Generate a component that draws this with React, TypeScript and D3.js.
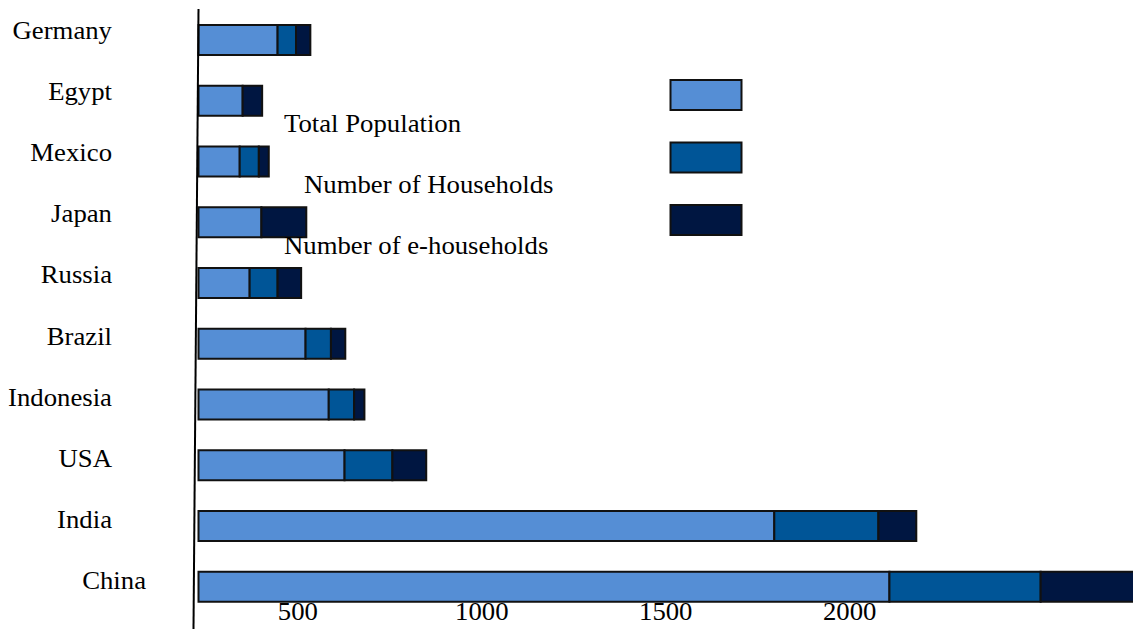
import React from "react";
import * as d3 from "d3";

const countries = ["Germany", "Egypt", "Mexico", "Japan", "Russia", "Brazil", "Indonesia", "USA", "India", "China"];
const totalPopulation = [215, 120, 112, 171, 139, 291, 354, 397, 1565, 1878];
const households = [50, 0, 52, 0, 76, 69, 69, 130, 283, 411];
const eHouseholds = [39, 53, 27, 122, 64, 39, 28, 92, 103, 260];
const seriesNames = ["Total Population", "Number of Households", "Number of e-households"];
const seriesColors = ["#558ED5", "#005597", "#001641"];
const tickValues = [500, 1000, 1500, 2000];
const axisStart = 230;

const W = 1133;
const H = 629;
const FONT = '"Liberation Serif", "Times New Roman", "DejaVu Serif", serif';
const FS = 25;
const SX = 1.07;

function T({ x, y, anchor, children }: { x: number; y: number; anchor?: string; children: any }) {
  return (
    <text
      transform={`translate(${x},${y}) scale(${SX},1)`}
      textAnchor={anchor || "start"}
      style={{ fontFamily: FONT, fontSize: FS }}
      fill="#000"
    >
      {children}
    </text>
  );
}

export default function App() {
  const x = d3.scaleLinear().domain([axisStart, 2770]).range([198.5, 1133]);
  const step = 60.75;
  const bh = 30;
  const p = 1 - bh / step;
  const r0 = 25 - (step - bh) / 2;
  const y = d3
    .scaleBand<string>()
    .domain(countries)
    .range([r0, r0 + step * countries.length])
    .paddingInner(p)
    .paddingOuter(p / 2);

  const rows = countries.map((c, i) => ({
    country: c,
    s0: totalPopulation[i],
    s1: households[i],
    s2: eHouseholds[i],
  }));
  const keys = ["s0", "s1", "s2"];
  const stacked = d3.stack<any>().keys(keys)(rows);

  const legendY = d3.scaleLinear().domain([0, 1]).range([80, 142.5]);

  return (
    <svg
      width={W}
      height={H}
      style={{ position: "absolute", left: 0, top: 0, background: "#fff" }}
    >
      {stacked.map((layer, li) => (
        <g key={li}>
          {layer.map((d, i) => {
            const w = x(axisStart + d[1]) - x(axisStart + d[0]);
            if (w <= 0) return null;
            return (
              <rect
                key={i}
                x={x(axisStart + d[0])}
                y={y(countries[i])!}
                width={w}
                height={y.bandwidth()}
                fill={seriesColors[li]}
                stroke="#111"
                strokeWidth={2}
              />
            );
          })}
        </g>
      ))}
      <line x1={198.5} y1={9} x2={193.5} y2={H} stroke="#000" strokeWidth={2} />
      {countries.map((c, i) => (
        <T key={c} x={112 + (i === countries.length - 1 ? 34 : 0)} y={y(c)! + 14 + i * 0.35} anchor="end">
          {c}
        </T>
      ))}
      {tickValues.map((t) => (
        <T key={t} x={x(t)} y={620} anchor="middle">
          {t}
        </T>
      ))}
      {seriesNames.map((n, i) => (
        <g key={n}>
          <rect
            x={670.5}
            y={legendY(i)}
            width={71}
            height={30}
            fill={seriesColors[i]}
            stroke="#111"
            strokeWidth={2}
          />
          <T x={284 + (i === 1 ? 20 : 0)} y={131.5 + i * 61}>
            {n}
          </T>
        </g>
      ))}
    </svg>
  );
}
